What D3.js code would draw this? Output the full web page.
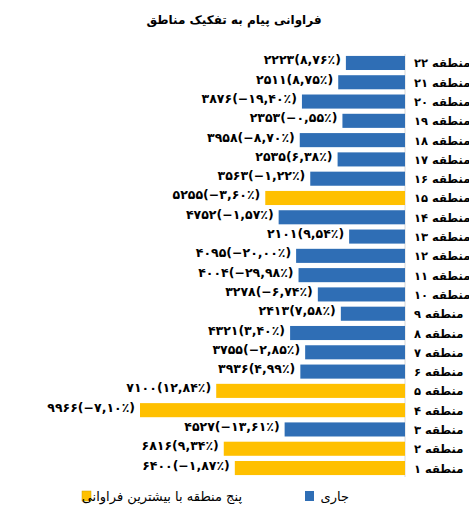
<!DOCTYPE html>
<html><head><meta charset="utf-8">
<script src="https://cdn.jsdelivr.net/npm/d3@7"></script>
<style>body{margin:0;background:#fff}text{font-family:"DejaVu Sans",sans-serif;font-weight:bold}</style>
</head><body>
<svg id="chart" width="469" height="512"></svg>
<script>
var regions = ["منطقه ۲۲","منطقه ۲۱","منطقه ۲۰","منطقه ۱۹","منطقه ۱۸","منطقه ۱۷","منطقه ۱۶","منطقه ۱۵","منطقه ۱۴","منطقه ۱۳","منطقه ۱۲","منطقه ۱۱","منطقه ۱۰","منطقه ۹","منطقه ۸","منطقه ۷","منطقه ۶","منطقه ۵","منطقه ۴","منطقه ۳","منطقه ۲","منطقه ۱"];
var counts = [2223,2511,3876,2353,3958,2535,3563,5255,4752,2101,4095,4004,3278,2413,4321,3755,3936,7100,9966,4527,6816,6400];
var changes = ["8,76","8,75","−19,40","−0,55","−8,70","6,38","−1,22","−3,60","−1,57","9,54","−20,00","−29,98","−6,74","7,58","3,40","−2,85","4,99","12,84","−7,10","−13,61","9,34","−1,87"];
var top5 = ["منطقه ۱۵","منطقه ۵","منطقه ۴","منطقه ۲","منطقه ۱"];
var legendLabels = ["جاری","پنج منطقه با بیشترین فراوانی"];
var title = "فراوانی پیام به تفکیک مناطق";

var blue = "#2f6eb5", yellow = "#ffc000";
var fa = function (s) { return String(s).replace(/[0-9]/g, function (d) { return "۰۱۲۳۴۵۶۷۸۹"[d]; }); };

var svg = d3.select("#chart");
var x = d3.scaleLinear().domain([0, 9966]).range([405, 140]);
var y = d3.scaleBand().domain(regions).range([54, 477]).paddingInner(0.27).paddingOuter(0.1);

svg.append("text").attr("x", 234).attr("y", 24).attr("text-anchor", "middle")
    .attr("font-size", 12).attr("direction", "rtl").text(title);

svg.append("line").attr("x1", 405).attr("x2", 405).attr("y1", 54).attr("y2", 477)
    .attr("stroke", "#d9d9d9");

svg.selectAll("rect.bar").data(regions).enter().append("rect")
    .attr("class", "bar")
    .attr("x", function (d, i) { return x(counts[i]); })
    .attr("y", function (d) { return y(d); })
    .attr("width", function (d, i) { return x(0) - x(counts[i]); })
    .attr("height", y.bandwidth())
    .attr("fill", function (d) { return top5.indexOf(d) >= 0 ? yellow : blue; });

svg.selectAll("text.val").data(regions).enter().append("text")
    .attr("x", function (d, i) { return x(counts[i]) - 5; })
    .attr("y", function (d) { return y(d) + y.bandwidth() / 2 - 2; })
    .attr("dominant-baseline", "middle").attr("text-anchor", "end")
    .attr("direction", "ltr").attr("font-size", 12.5)
    .text(function (d, i) { return fa(counts[i]) + "(" + fa(changes[i]) + "٪)"; });

svg.selectAll("text.reg").data(regions).enter().append("text")
    .attr("x", 414)
    .attr("y", function (d) { return y(d) + y.bandwidth() / 2 + 1; })
    .attr("dominant-baseline", "middle").attr("text-anchor", "end")
    .attr("direction", "rtl").attr("font-size", 11.5)
    .text(function (d) { return d; });

// legend
svg.append("rect").attr("x", 305).attr("y", 491).attr("width", 9).attr("height", 10).attr("fill", blue);
svg.append("text").attr("x", 349).attr("y", 501).attr("text-anchor", "start").attr("direction", "rtl")
    .attr("font-size", 13).style("font-weight", "normal").text(legendLabels[0]);
svg.append("rect").attr("x", 82).attr("y", 491).attr("width", 9).attr("height", 10)
    .attr("fill", yellow).attr("stroke", "#c9a000").attr("stroke-width", 0.5);
svg.append("text").attr("x", 242).attr("y", 501).attr("text-anchor", "start").attr("direction", "rtl")
    .attr("font-size", 13).style("font-weight", "normal").text(legendLabels[1]);
</script>
</body></html>
